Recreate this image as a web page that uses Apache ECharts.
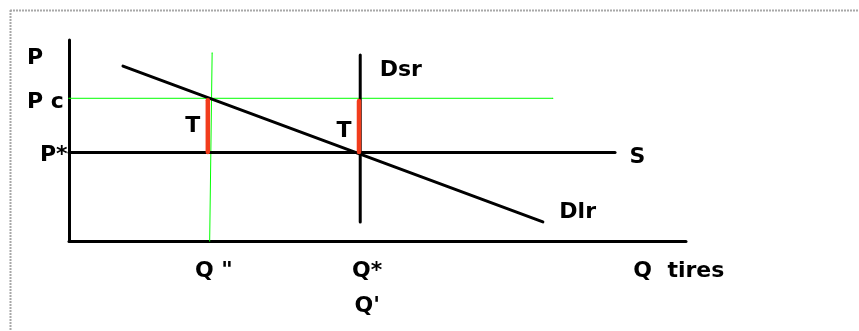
<!DOCTYPE html>
<html>
<head>
<meta charset="utf-8">
<script src="https://cdn.jsdelivr.net/npm/echarts@6/dist/echarts.min.js"></script>
<style>
  html, body { margin: 0; padding: 0; background: #fff; }
  #main { width: 859px; height: 331px; }
</style>
</head>
<body>
<div id="main"></div>
<script>
// tick positions / labels on both axes
const xTicks = [23, 47.2, 99];
const xTickLabels = ['Q "', "Q*\nQ'", 'Q  tires'];
const yTicks = [44, 71, 91.5];
const yTickLabels = ['P*', 'P c', 'P'];

// curves (x = quantity, y = price)
const supplyS = [[0, 44], [88.5, 44]];
const demandDsr = [[47.2, 92.5], [47.2, 9.5]];
const demandDlr = [[8.75, 87], [76.8, 9.5]];
const priceLine = [[0, 71], [78.4, 71]];
const quantityLine = [[23.2, 93.5], [22.8, 0]];
const taxLong = [[22.5, 70], [22.5, 44.3]];
const taxShort = [[47, 69.7], [47, 44.3]];

const font = { fontFamily: 'DejaVu Sans', fontWeight: 'bold', fontSize: 22, color: '#000' };

// put a text label on one point of a line
function withLabel(points, idx, label) {
  return points.map((p, i) => i === idx ? { value: p, label: Object.assign({ show: true }, font, label) } : { value: p });
}

function seg(name, data, color, width, z) {
  return {
    name: name,
    type: 'line',
    data: data,
    symbol: 'circle',
    symbolSize: 1,
    showSymbol: true,
    itemStyle: { color: color },
    lineStyle: { color: color, width: width, cap: 'round' },
    label: { show: false },
    z: z,
    silent: true
  };
}

var myChart = echarts.init(document.getElementById('main'));
myChart.setOption({
  animation: false,
  grid: { left: 69, top: 40, right: 173, bottom: 90 },
  xAxis: {
    type: 'value',
    min: 0,
    max: 100,
    splitLine: { show: false },
    axisTick: { show: false },
    axisLine: { show: true, lineStyle: { color: '#000', width: 3 } },
    axisLabel: {
      customValues: xTicks,
      margin: 13,
      verticalAlign: 'top',
      lineHeight: 35,
      formatter: function (v) {
        const i = xTicks.indexOf(v);
        const key = ['a', 'b', 'c'][i];
        return xTickLabels[i].split('\n').map(s => '{' + key + '|' + s + '}').join('\n');
      },
      rich: {
        a: Object.assign({ lineHeight: 35, padding: [0, 0, 0, 6] }, font),
        b: Object.assign({ lineHeight: 35, padding: [0, 0, 0, 14] }, font),
        c: Object.assign({ lineHeight: 35, padding: [0, 2, 0, 0] }, font)
      }
    }
  },
  yAxis: {
    type: 'value',
    min: 0,
    max: 100,
    splitLine: { show: false },
    axisTick: { show: false },
    axisLine: { show: true, lineStyle: { color: '#000', width: 3 } },
    axisLabel: {
      customValues: yTicks,
      margin: 42,
      align: 'left',
      formatter: function (v) {
        const i = yTicks.indexOf(v);
        return ['{s|', '{c|', '{n|'][i] + yTickLabels[i] + '}';
      },
      rich: {
        n: Object.assign({ padding: [2, 0, 0, 0] }, font),
        c: Object.assign({ padding: [7, 0, 0, 0] }, font),
        s: Object.assign({ padding: [6, 0, 0, 13] }, font)
      }
    }
  },
  graphic: [
    { type: 'line', shape: { x1: 10, y1: 10.5, x2: 859, y2: 10.5 }, style: { stroke: '#a8a8a8', lineWidth: 2, lineDash: [2, 1] } },
    { type: 'line', shape: { x1: 10.5, y1: 10, x2: 10.5, y2: 331 }, style: { stroke: '#a8a8a8', lineWidth: 2, lineDash: [2, 1] } }
  ],
  series: [
    seg('Pc', priceLine, '#00ff00', 1, 2),
    seg('Q2', quantityLine, '#00ff00', 1, 2),
    seg('S', withLabel(supplyS, 1, { formatter: 'S', position: 'right', distance: 14, offset: [0, 5] }), '#000', 3, 3),
    seg('Dsr', withLabel(demandDsr, 0, { formatter: 'Dsr', position: 'right', distance: 19, offset: [0, 15] }), '#000', 3, 3),
    seg('Dlr', withLabel(demandDlr, 1, { formatter: 'Dlr', position: 'right', distance: 16, offset: [0, -10] }), '#000', 3, 3),
    seg('T1', withLabel(taxLong, 0, { formatter: 'T', position: 'left', distance: 7, offset: [0, 26] }), '#f23c1c', 4.5, 4),
    seg('T2', withLabel(taxShort, 0, { formatter: 'T', position: 'left', distance: 7, offset: [0, 30] }), '#f23c1c', 4.5, 4)
  ]
});
</script>
</body>
</html>
